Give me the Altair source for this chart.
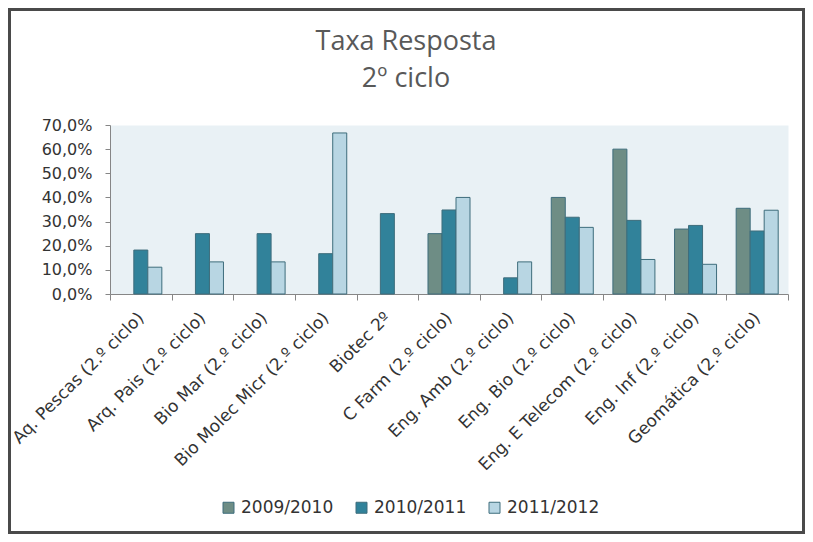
import altair as alt
import pandas as pd

title_lines = ["Taxa Resposta", "2º ciclo"]
categories = [
    "Aq. Pescas (2.º ciclo)",
    "Arq. Pais (2.º ciclo)",
    "Bio Mar (2.º ciclo)",
    "Bio Molec Micr (2.º ciclo)",
    "Biotec 2º",
    "C Farm (2.º ciclo)",
    "Eng. Amb (2.º ciclo)",
    "Eng. Bio (2.º ciclo)",
    "Eng. E Telecom (2.º ciclo)",
    "Eng. Inf (2.º ciclo)",
    "Geomática (2.º ciclo)",
]
series = ["2009/2010", "2010/2011", "2011/2012"]
v_2009_2010 = [None, None, None, None, None, 0.250, None, 0.400, 0.600, 0.269, 0.355]
v_2010_2011 = [0.182, 0.250, 0.250, 0.167, 0.333, 0.348, 0.067, 0.318, 0.305, 0.284, 0.261]
v_2011_2012 = [0.111, 0.133, 0.133, 0.667, None, 0.400, 0.133, 0.276, 0.143, 0.123, 0.347]
colors = ["#6E8D85", "#31829A", "#B8D6E3"]
y_ticks = [0.0, 0.1, 0.2, 0.3, 0.4, 0.5, 0.6, 0.7]

rows = []
for s, vals in zip(series, [v_2009_2010, v_2010_2011, v_2011_2012]):
    for c, v in zip(categories, vals):
        if v is not None:
            rows.append({"cat": c, "serie": s, "value": v})
df = pd.DataFrame(rows)

W, H = 678, 169
PL, PT, PR, PB = 102, 117, 17, 240

bars = alt.Chart(df).mark_bar(stroke="#3E6D7C", strokeWidth=1).encode(
    x=alt.X(
        "cat:N",
        sort=categories,
        scale=alt.Scale(paddingInner=0, paddingOuter=0),
        axis=alt.Axis(
            title=None,
            labelAngle=-45,
            labelAlign="right",
            labelBaseline="middle",
            labelFont="DejaVu Sans",
            labelFontSize=17,
            labelColor="#333333",
            labelPadding=15,
            labelOverlap=False,
            labelLimit=400,
            tickBand="extent",
            tickSize=6,
            tickColor="#868686",
            domainColor="#868686",
            grid=False,
        ),
    ),
    xOffset=alt.XOffset(
        "serie:N",
        sort=series,
        scale=alt.Scale(domain=series, paddingInner=0, paddingOuter=0.7),
    ),
    y=alt.Y(
        "value:Q",
        scale=alt.Scale(domain=[0, 0.7], nice=False),
        axis=alt.Axis(
            title=None,
            values=y_ticks,
            labelExpr="replace(format(datum.value, '.1%'), '.', ',')",
            labelFont="DejaVu Sans",
            labelFontSize=16,
            labelColor="#333333",
            labelPadding=13,
            tickSize=5,
            tickColor="#868686",
            domainColor="#868686",
            grid=False,
        ),
    ),
    color=alt.Color(
        "serie:N",
        scale=alt.Scale(domain=series, range=colors),
        legend=alt.Legend(
            title=None,
            orient="none",
            direction="horizontal",
            legendX=110,
            legendY=374,
            symbolType="square",
            symbolSize=121,
            symbolStrokeColor="#3E6D7C",
            symbolStrokeWidth=1,
            labelFont="DejaVu Sans",
            labelFontSize=17,
            labelColor="#333333",
            labelOffset=4,
            columnPadding=19,
            padding=0,
        ),
    ),
)

one = pd.DataFrame({"a": [0]})

title1 = alt.Chart(one).mark_text(
    font="Open Sans", fontSize=27, color="#595959", align="center", baseline="alphabetic"
).encode(x=alt.value(296), y=alt.value(-75), text=alt.value(title_lines[0]))

title2 = alt.Chart(one).mark_text(
    font="Open Sans", fontSize=27, color="#595959", align="center", baseline="alphabetic"
).encode(x=alt.value(296), y=alt.value(-38), text=alt.value(title_lines[1]))

frame = alt.Chart(one).mark_rect(
    fill="transparent", stroke="#4A4A4A", strokeWidth=3
).encode(
    x=alt.value(-PL + 1.5),
    x2=alt.value(W + PR - 1.5),
    y=alt.value(-PT + 1.5),
    y2=alt.value(H + PB - 1.5),
)

chart = alt.layer(bars, title1, title2, frame).properties(
    width=W,
    height=H,
    padding={"left": PL, "top": PT, "right": PR, "bottom": PB},
    autosize=alt.AutoSizeParams(type="none"),
).configure(background="white").configure_view(fill="#E9F1F5", stroke="transparent")

chart.save("out.html", embed_options={"renderer": "svg", "actions": False})
